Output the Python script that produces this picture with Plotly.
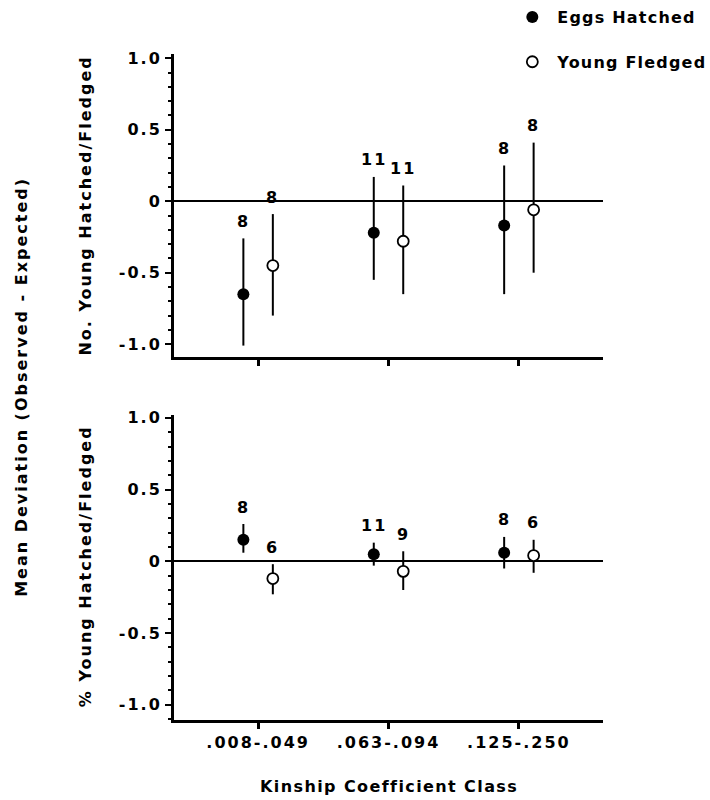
import plotly.graph_objects as go
from plotly.subplots import make_subplots

categories = [".008-.049", ".063-.094", ".125-.250"]
x_pos = [0, 1, 2]

# Top panel: No. Young Hatched/Fledged
top_eggs_mean = [-0.65, -0.22, -0.17]
top_eggs_upper = [-0.26, 0.17, 0.25]
top_eggs_lower = [-1.01, -0.55, -0.65]
top_eggs_n = [8, 11, 8]
top_young_mean = [-0.45, -0.28, -0.06]
top_young_upper = [-0.09, 0.11, 0.41]
top_young_lower = [-0.80, -0.65, -0.50]
top_young_n = [8, 11, 8]

# Bottom panel: % Young Hatched/Fledged
bot_eggs_mean = [0.15, 0.05, 0.06]
bot_eggs_upper = [0.26, 0.13, 0.17]
bot_eggs_lower = [0.06, -0.03, -0.05]
bot_eggs_n = [8, 11, 8]
bot_young_mean = [-0.12, -0.07, 0.04]
bot_young_upper = [-0.02, 0.07, 0.15]
bot_young_lower = [-0.23, -0.20, -0.08]
bot_young_n = [6, 9, 6]

y_tickvals = [-1.0, -0.5, 0, 0.5, 1.0]
y_ticktext = ["-1.0", "-0.5", "0", "0.5", "1.0"]

FONT = "DejaVu Sans"
DODGE = 0.113


def sp(text, px=2):
    return f'<span style="letter-spacing:{px}px">{text}</span>'


fig = make_subplots(rows=2, cols=1, vertical_spacing=0.0)


def add_series(row, means, uppers, lowers, ns, offset, filled, name, showlegend):
    xs = [p + offset for p in x_pos]
    plus = [u - m for u, m in zip(uppers, means)]
    minus = [m - l for m, l in zip(means, lowers)]
    fig.add_trace(
        go.Scatter(
            x=xs, y=means, mode="markers", name=sp(name, 1.2), showlegend=showlegend,
            legendgroup=name,
            marker=dict(
                symbol="circle",
                size=12 if filled else 11,
                color="black" if filled else "white",
                line=dict(color="black", width=0 if filled else 1.8),
            ),
            error_y=dict(type="data", symmetric=False, array=plus, arrayminus=minus,
                         color="black", thickness=2, width=0),
        ),
        row=row, col=1,
    )
    yref = "y" if row == 1 else "y2"
    xref = "x" if row == 1 else "x2"
    for xv, uv, n in zip(xs, uppers, ns):
        fig.add_annotation(
            x=xv, y=uv, xref=xref, yref=yref, text=sp(str(n)), showarrow=False,
            yanchor="middle", yshift=17,
            font=dict(family=FONT, size=16, color="black", weight="bold"),
        )


add_series(1, top_eggs_mean, top_eggs_upper, top_eggs_lower, top_eggs_n, -DODGE, True, "Eggs Hatched", True)
add_series(1, top_young_mean, top_young_upper, top_young_lower, top_young_n, DODGE, False, "Young Fledged", True)
add_series(2, bot_eggs_mean, bot_eggs_upper, bot_eggs_lower, bot_eggs_n, -DODGE, True, "Eggs Hatched", False)
add_series(2, bot_young_mean, bot_young_upper, bot_young_lower, bot_young_n, DODGE, False, "Young Fledged", False)

yaxis_common = dict(
    tickvals=y_tickvals, ticktext=[sp(t) for t in y_ticktext],
    showline=True, linecolor="black", linewidth=3,
    ticks="outside", ticklen=6, tickwidth=2, tickcolor="black",
    minor=dict(dtick=0.1, ticks="outside", ticklen=3, tickwidth=1.5, tickcolor="black"),
    showgrid=False, zeroline=True, zerolinecolor="black", zerolinewidth=2,
    tickfont=dict(family=FONT, size=16, color="black", weight="bold"),
)
xaxis_common = dict(
    range=[-0.645, 2.645], tickvals=x_pos, ticktext=[sp(c) for c in categories],
    showline=True, linecolor="black", linewidth=3,
    ticks="outside", ticklen=6, tickwidth=3, tickcolor="black",
    showgrid=False, zeroline=False,
    tickfont=dict(family=FONT, size=16, color="black", weight="bold"),
)

fig.update_layout(
    width=710, height=800,
    margin=dict(l=174, r=107, t=54, b=80, autoexpand=False),
    plot_bgcolor="white", paper_bgcolor="white",
    xaxis=dict(**xaxis_common, domain=[0, 1], showticklabels=False),
    xaxis2=dict(**xaxis_common, domain=[0, 1]),
    yaxis=dict(**yaxis_common, domain=[0.545, 1.0], range=[-1.09, 1.03]),
    yaxis2=dict(**yaxis_common, domain=[0.0, 0.458], range=[-1.106, 1.02]),
    legend=dict(
        x=0.777, y=1.081, xanchor="left", yanchor="top",
        font=dict(family=FONT, size=16, color="black", weight="bold"),
        bgcolor="rgba(0,0,0,0)", tracegroupgap=21, traceorder="grouped",
        itemwidth=40,
    ),
    showlegend=True,
)

title_font = dict(family=FONT, size=16, color="black", weight="bold")
fig.add_annotation(
    text=sp("Kinship Coefficient Class", 1.4), xref="paper", yref="paper",
    x=0.5, y=-0.0994, xanchor="center", yanchor="middle", showarrow=False, font=title_font,
)
fig.add_annotation(
    text=sp("Mean Deviation (Observed - Expected)"), xref="paper", yref="paper",
    x=-0.357, y=0.5, xanchor="center", yanchor="middle", textangle=-90,
    showarrow=False, font=title_font,
)
fig.add_annotation(
    text=sp("No. Young Hatched/Fledged"), xref="paper", yref="paper",
    x=-0.207, y=0.7727, xanchor="center", yanchor="middle", textangle=-90,
    showarrow=False, font=title_font,
)
fig.add_annotation(
    text=sp("% Young Hatched/Fledged"), xref="paper", yref="paper",
    x=-0.207, y=0.2312, xanchor="center", yanchor="middle", textangle=-90,
    showarrow=False, font=title_font,
)

fig.write_html(
    "out.html",
    config={"displayModeBar": False},
    post_script="document.body.style.margin='0px';",
)
